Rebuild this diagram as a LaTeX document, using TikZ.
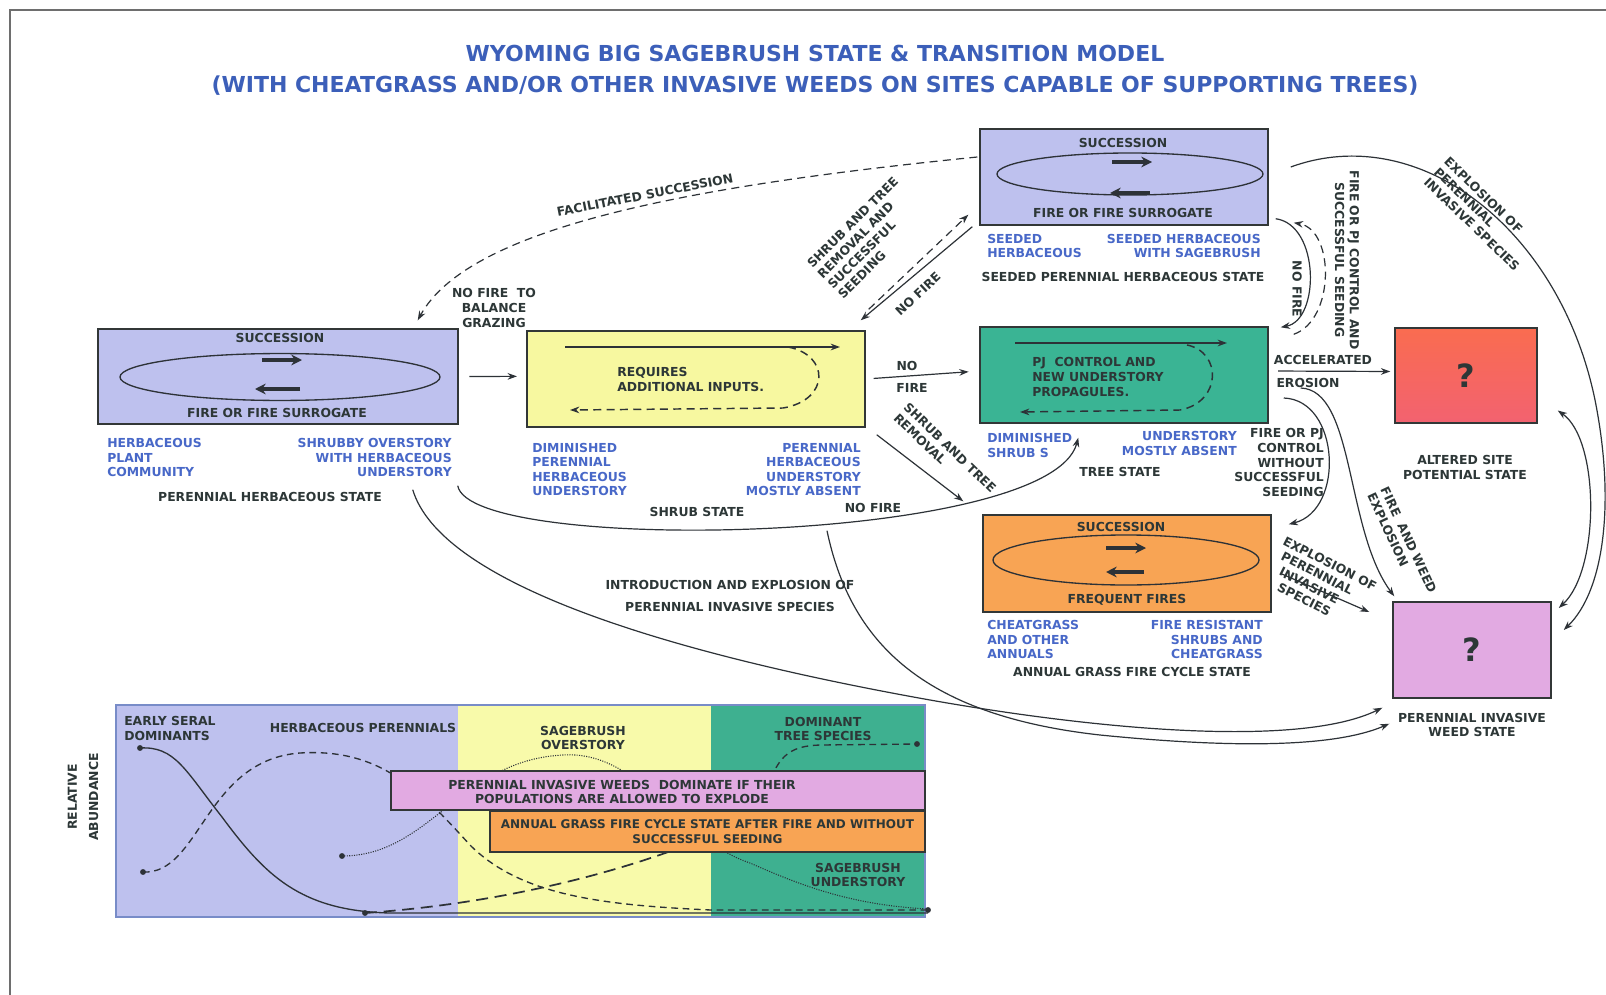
\documentclass[tikz,border=0pt]{standalone}
\usepackage{fontspec}
\setmainfont{DejaVu Sans}
\usepackage{xcolor}
\usetikzlibrary{arrows.meta, calc}

\definecolor{herbfill}{RGB}{190,193,238}
\definecolor{shrubfill}{RGB}{247,248,160}
\definecolor{treefill}{RGB}{58,180,148}
\definecolor{alteredtop}{RGB}{250,108,80}
\definecolor{alteredbot}{RGB}{242,98,112}
\definecolor{annualfill}{RGB}{248,164,84}
\definecolor{weedfill}{RGB}{226,170,226}
\definecolor{chartyellow}{RGB}{248,250,170}
\definecolor{chartgreen}{RGB}{62,176,144}
\definecolor{chartedge}{RGB}{120,140,200}
\definecolor{boxline}{RGB}{50,55,55}
\definecolor{linec}{RGB}{45,50,55}
\definecolor{darktext}{RGB}{45,55,55}
\definecolor{bluetext}{RGB}{72,104,200}
\definecolor{titleblue}{RGB}{60,95,185}
\definecolor{framegray}{RGB}{110,110,110}

\newcommand\lbl{\fontsize{9.3}{10.9}\selectfont\bfseries}

\begin{document}
\begin{tikzpicture}[x=0.75pt, y=-0.75pt, font=\lbl]
    \tikzstyle{statebox} = [rectangle, draw=boxline, line width=1.1pt, inner sep=0pt]
    \tikzstyle{txt} = [inner sep=0pt, text=darktext, font=\lbl]
    \tikzstyle{bluetxt} = [txt, text=bluetext]
    \tikzstyle{arrow} = [line width=0.9pt, draw=linec, ->, >={Stealth[length=7pt,width=5pt]}]
    \tikzstyle{dasharrow} = [arrow, dash pattern=on 6pt off 4pt]
    \tikzstyle{cycle} = [line width=1pt, draw=linec]
    \tikzstyle{cyclearrow} = [line width=2.6pt, draw=linec, ->, >={Stealth[length=8pt,width=8pt]}]
    \tikzstyle{banner} = [rectangle, draw=boxline, line width=1pt, inner sep=0pt]
    \tikzstyle{curve} = [line width=1pt, draw=linec]

    \useasboundingbox (0,0) rectangle (1606,995);
    \fill[white] (0,0) rectangle (1606,995);
    \draw[framegray, line width=1pt] (10,995) -- (10,10) -- (1606,10);

    % title
    \node (title) [txt, text=titleblue, font=\fontsize{16.5}{20}\selectfont\bfseries] at (815,53) {WYOMING BIG SAGEBRUSH STATE \& TRANSITION MODEL};
    \node (subtitle) [txt, text=titleblue, font=\fontsize{16.5}{20}\selectfont\bfseries] at (815,86) {(WITH CHEATGRASS AND/OR OTHER INVASIVE WEEDS ON SITES CAPABLE OF SUPPORTING TREES)};

    % state boxes
    \node (herb) [statebox, fill=herbfill, minimum width=270pt, minimum height=71.25pt] at (278,376.5) {};
    \node (shrub) [statebox, fill=shrubfill, minimum width=253.5pt, minimum height=72pt] at (696,379) {};
    \node (seeded) [statebox, fill=herbfill, minimum width=216pt, minimum height=72pt] at (1124,177) {};
    \node (tree) [statebox, fill=treefill, minimum width=216pt, minimum height=72pt] at (1124,375) {};
    \node (altered) [statebox, top color=alteredtop, bottom color=alteredbot, minimum width=106.5pt, minimum height=71.25pt, font=\fontsize{24}{26}\selectfont\bfseries, text=darktext] at (1466,375.5) {?};
    \node (annual) [statebox, fill=annualfill, minimum width=216pt, minimum height=72.75pt] at (1127,563.5) {};
    \node (weed) [statebox, fill=weedfill, minimum width=118.5pt, minimum height=72pt, font=\fontsize{24}{26}\selectfont\bfseries, text=darktext] at (1472,650) {?};

    % perennial herbaceous state
    \draw[cycle] (280,377) ellipse [x radius=120pt, y radius=17.6pt];
    \draw[cyclearrow] (262,360) -- (302,360);
    \draw[cyclearrow] (300,389) -- (255,389);
    \node (herbsucc) [txt] at (280,338) {SUCCESSION};
    \node (herbfire) [txt] at (277,413) {FIRE OR FIRE SURROGATE};
    \node (herbleft) [bluetxt, anchor=west, align=left] at (107,457.5) {HERBACEOUS\\PLANT\\COMMUNITY};
    \node (herbright) [bluetxt, anchor=east, align=right] at (452,457.5) {SHRUBBY OVERSTORY\\WITH HERBACEOUS\\UNDERSTORY};
    \node (herbname) [txt] at (270,497) {PERENNIAL HERBACEOUS STATE};

    % shrub state
    \draw[arrow, line width=1.1pt] (565,347) -- (840,347);
    \draw[dasharrow, line width=1.1pt] (788,347) .. controls (830,355) and (830,400) .. (783,408) -- (570,410);
    \node (shrubtext) [txt, anchor=west, align=left] at (617,379.5) {REQUIRES\\ADDITIONAL INPUTS.};
    \node (shrubleft) [bluetxt, anchor=west, align=left] at (532,469.5) {DIMINISHED\\PERENNIAL\\HERBACEOUS\\UNDERSTORY};
    \node (shrubright) [bluetxt, anchor=east, align=right] at (861,469.5) {PERENNIAL\\HERBACEOUS\\UNDERSTORY\\MOSTLY ABSENT};
    \node (shrubname) [txt] at (697,512) {SHRUB STATE};

    % seeded perennial herbaceous state
    \draw[cycle] (1130,174) ellipse [x radius=99.75pt, y radius=15.75pt];
    \draw[cyclearrow] (1112,162) -- (1152,162);
    \draw[cyclearrow] (1150,193) -- (1110,193);
    \node (seedsucc) [txt] at (1123,143) {SUCCESSION};
    \node (seedfire) [txt] at (1123,213) {FIRE OR FIRE SURROGATE};
    \node (seedleft) [bluetxt, anchor=west, align=left] at (987,246) {SEEDED\\HERBACEOUS};
    \node (seedright) [bluetxt, anchor=east, align=right] at (1261,246) {SEEDED HERBACEOUS\\WITH SAGEBRUSH};
    \node (seedname) [txt] at (1123,277) {SEEDED PERENNIAL HERBACEOUS STATE};

    % tree state
    \draw[arrow, line width=1.1pt] (1015,343) -- (1227,343);
    \draw[dasharrow, line width=1.1pt] (1187,345) .. controls (1222,352) and (1222,402) .. (1180,410) -- (1020,412);
    \node (treetext) [txt, anchor=west, align=left] at (1032,377) {PJ~ CONTROL AND\\NEW UNDERSTORY\\PROPAGULES.};
    \node (treeleft) [bluetxt, anchor=west, align=left] at (987,445.5) {DIMINISHED\\SHRUB S};
    \node (treeright) [bluetxt, anchor=east, align=right] at (1237,443.5) {UNDERSTORY\\MOSTLY ABSENT};
    \node (treename) [txt] at (1120,472) {TREE STATE};

    % annual grass fire cycle state
    \draw[cycle] (1126,560) ellipse [x radius=99.75pt, y radius=18.75pt];
    \draw[cyclearrow] (1106,548) -- (1146,548);
    \draw[cyclearrow] (1144,572) -- (1106,572);
    \node (annsucc) [txt] at (1121,527) {SUCCESSION};
    \node (annfire) [txt] at (1127,600) {FREQUENT FIRES};
    \node (annleft) [bluetxt, anchor=west, align=left] at (987,639.5) {CHEATGRASS\\AND OTHER\\ANNUALS};
    \node (annright) [bluetxt, anchor=east, align=right] at (1263,639.5) {FIRE RESISTANT\\SHRUBS AND\\CHEATGRASS};
    \node (annname) [txt] at (1132,672) {ANNUAL GRASS FIRE CYCLE STATE};

    \node (altname) [txt, align=center] at (1465,467.5) {ALTERED SITE\\POTENTIAL STATE};
    \node (weedname) [txt, align=center] at (1472,725) {PERENNIAL INVASIVE\\WEED STATE};

    % transitions
    \draw[arrow, shorten <=8pt, shorten >=7pt] (herb.east) -- ([yshift=2pt]shrub.west);
    \draw[arrow, shorten <=6pt, shorten >=8pt] (shrub.east) -- ([yshift=3pt]tree.west);
    \node (nofireA) [txt] at (907,366) {NO};
    \node (nofireB) [txt] at (912,388) {FIRE};
    \draw[arrow, shorten <=7pt, shorten >=3pt] ([yshift=3pt]tree.east) -- ([yshift=3pt]altered.west);
    \node (accel) [txt] at (1323,360) {ACCELERATED};
    \node (erosion) [txt] at (1308,383) {EROSION};

    \draw[dasharrow] ($(seeded.west)+(-2,-20)$) .. controls (700,185) and (470,225) .. ($(herb.north east)+(-41,-8)$);
    \node (facil) [txt, rotate=11] at (645,195) {FACILITATED SUCCESSION};
    \node (balance) [txt, align=center] at (494,308) {NO FIRE~ TO\\BALANCE\\GRAZING};

    \draw[dasharrow] ($(shrub.north east)+(3,-21)$) -- ($(seeded.south west)+(-11,-11)$);
    \draw[arrow] ($(seeded.south west)+(-7,1)$) -- ($(shrub.north east)+(-5,-10)$);
    \node (removal) [txt, rotate=45, align=left] at (868,238) {SHRUB AND TREE\\REMOVAL AND\\SUCCESSFUL\\SEEDING};
    \node (nofireC) [txt, rotate=43] at (918,294) {NO FIRE};

    \draw[arrow] ($(shrub.south east)+(11,7)$) -- ($(annual.north west)+(-19,-13)$);
    \node (treeremoval) [txt, rotate=-44, align=left] at (945,453) {SHRUB AND TREE\\REMOVAL};

    \draw[arrow] ($(herb.south east)+(-1,61)$) .. controls (470,555) and (1050,545) .. ($(tree.south west)+(99,14)$);
    \node (nofireD) [txt] at (873,508) {NO FIRE};

    \draw[arrow] ($(herb.south east)+(-46,65)$) .. controls (440,580) and (650,650) .. (930,700) .. controls (1100,730) and (1300,748) .. ($(weed.south west)+(-10,9)$);
    \draw[arrow] ($(shrub.south)+(131,103)$) .. controls (850,640) and (920,715) .. (1100,735) .. controls (1250,750) and (1340,745) .. ($(weed.south west)+(-3,25)$);
    \node (intro) [txt, align=center, font=\fontsize{9.3}{16}\selectfont\bfseries] at (730,596) {INTRODUCTION AND EXPLOSION OF\\PERENNIAL INVASIVE SPECIES};

    \draw[arrow] ($(seeded.south east)+(7,-7)$) .. controls (1320,225) and (1320,320) .. ($(tree.north east)+(12,1)$);
    \draw[dasharrow] ($(tree.north east)+(25,8)$) .. controls (1335,320) and (1335,230) .. ($(seeded.south east)+(25,-3)$);
    \node (nofireE) [txt, rotate=-90] at (1297,289) {NO FIRE};
    \node (pjseed) [txt, rotate=-90, align=center] at (1347,260) {FIRE OR PJ CONTROL AND\\SUCCESSFUL SEEDING};

    \draw[arrow] ($(tree.east)+(15,23)$) .. controls (1340,400) and (1345,510) .. ($(annual.north east)+(17,10)$);
    \node (pjnoseed) [txt, anchor=east, align=right] at (1324,462.5) {FIRE OR PJ\\CONTROL\\WITHOUT\\SUCCESSFUL\\SEEDING};

    \draw[arrow] ($(tree.east)+(32,13)$) .. controls (1355,390) and (1345,530) .. ($(weed.north west)+(2,-5)$);
    \node (weedfire) [txt, rotate=-65, align=left] at (1402,543) {FIRE~ AND WEED\\EXPLOSION};

    \draw[arrow] ($(annual.east)+(9,10)$) -- ($(weed.west)+(-23,-38)$);
    \node (annexpl) [txt, rotate=-27, align=left] at (1320,583) {EXPLOSION OF\\\hspace*{4pt}PERENNIAL\\\hspace*{8pt}INVASIVE\\\hspace*{12pt}SPECIES};

    \draw[arrow] ($(seeded.east)+(22,-10)$) .. controls (1420,120) and (1560,230) .. (1595,400) .. controls (1615,500) and (1605,590) .. ($(weed.east)+(12,-20)$);
    \node (seedexpl) [txt, rotate=-44, align=left] at (1482,214) {EXPLOSION OF\\PERENNIAL\\INVASIVE SPECIES};
    \draw[arrow, <->] ($(altered.east)+(20,35)$) .. controls (1600,440) and (1600,570) .. ($(weed.east)+(7,-42)$);

    % relative abundance chart
    \fill[herbfill] (116,705) rectangle (458,917);
    \fill[chartyellow] (458,705) rectangle (711,917);
    \fill[chartgreen] (711,705) rectangle (925,917);
    \draw[chartedge, line width=0.8pt] (116,705) rectangle (925,917);

    \draw[curve] (140,748) .. controls (175,746) and (185,770) .. (222,817) .. controls (265,875) and (300,911) .. (390,913) -- (928,913);
    \draw[curve, dash pattern=on 5pt off 3.5pt] (143,872) .. controls (200,875) and (205,760) .. (300,753) .. controls (380,748) and (420,790) .. (470,845) .. controls (520,895) and (600,905) .. (711,910) -- (925,910);
    \draw[curve, line width=0.8pt, dash pattern=on 0.8pt off 1pt] (342,856) .. controls (430,856) and (460,760) .. (563,755) .. controls (640,750) and (680,840) .. (750,863) .. controls (800,885) and (850,905) .. (928,909);
    \draw[curve, line width=1.3pt, dash pattern=on 9pt off 5pt] (365,913) .. controls (480,905) and (600,880) .. (700,840) -- (740,815);
    \draw[curve, dash pattern=on 5pt off 3.5pt] (765,800) .. controls (775,755) and (790,746) .. (820,745) -- (917,744);
    \foreach \px/\py in {140/748, 143/872, 342/856, 365/913, 917/744, 928/910}
        \fill[linec] (\px,\py) circle (2.2pt);

    \node (weedbar) [banner, fill=weedfill, minimum width=400.5pt, minimum height=29.25pt] at (658,790.5) {};
    \node (weedbartext) [txt, align=center] at (622,792) {PERENNIAL INVASIVE WEEDS~ DOMINATE IF THEIR\\POPULATIONS ARE ALLOWED TO EXPLODE};
    \node (annbar) [banner, fill=annualfill, minimum width=326.25pt, minimum height=30.75pt, align=center, text=darktext, font=\fontsize{9}{10.9}\selectfont\bfseries] at (707.5,831.5) {ANNUAL GRASS FIRE CYCLE STATE AFTER FIRE AND WITHOUT\\SUCCESSFUL SEEDING};

    \node (early) [txt, anchor=west, align=left] at (124,728.5) {EARLY SERAL\\DOMINANTS};
    \node (perennials) [txt] at (363,728) {HERBACEOUS PERENNIALS};
    \node (sageover) [txt, align=center] at (583,738) {SAGEBRUSH\\OVERSTORY};
    \node (domtree) [txt, align=center] at (823,729) {DOMINANT\\TREE SPECIES};
    \node (sageunder) [txt, align=center] at (858,875) {SAGEBRUSH\\UNDERSTORY};
    \node (relab) [txt, rotate=90, align=center, font=\fontsize{9.3}{16}\selectfont\bfseries] at (83,797) {RELATIVE\\ABUNDANCE};
\end{tikzpicture}
\end{document}
